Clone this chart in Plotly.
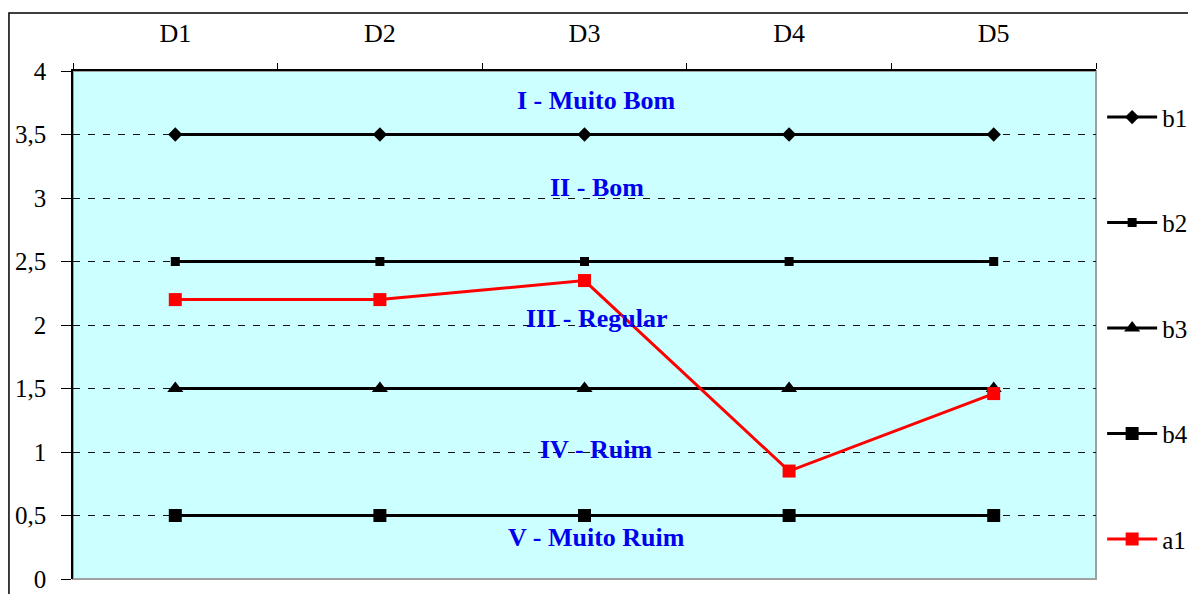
import plotly.graph_objects as go

categories = ["D1", "D2", "D3", "D4", "D5"]
b1 = [3.5, 3.5, 3.5, 3.5, 3.5]
b2 = [2.5, 2.5, 2.5, 2.5, 2.5]
b3 = [1.5, 1.5, 1.5, 1.5, 1.5]
b4 = [0.5, 0.5, 0.5, 0.5, 0.5]
a1 = [2.2, 2.2, 2.35, 0.85, 1.46]
zone_labels = ["I - Muito Bom", "II - Bom", "III - Regular", "IV - Ruim", "V - Muito Ruim"]
zone_label_y = [3.77, 3.08, 2.055, 1.016, 0.33]
ytick_vals = [0, 0.5, 1, 1.5, 2, 2.5, 3, 3.5, 4]

xi = list(range(len(categories)))
FONT = "Liberation Serif"

series = [
    ("b1", b1, "black", 3, "diamond", 11),
    ("b2", b2, "black", 3, "square", 9),
    ("b3", b3, "black", 3, "triangle-up", 14),
    ("b4", b4, "black", 3, "square", 13),
    ("a1", a1, "#FF0000", 3, "square", 13),
]

fig = go.Figure()
for name, vals, color, lw, sym, ms in series:
    fig.add_trace(go.Scatter(
        x=xi, y=vals, name=name, mode="lines+markers",
        line=dict(color=color, width=lw),
        marker=dict(symbol=sym, size=ms, color=color, line=dict(width=0)),
        legendgroup=name,
    ))

for txt, yv in zip(zone_labels, zone_label_y):
    fig.add_annotation(x=2.06, y=yv, xref="x", yref="y", text="<b>" + txt + "</b>",
                       showarrow=False, font=dict(family=FONT, size=26, color="#0000EE"))

# outer chart border
fig.add_shape(type="rect", xref="paper", yref="paper", x0=-0.0626, x1=1.0958, y0=-0.05, y1=1.114,
              line=dict(color="black", width=1.5), fillcolor="rgba(0,0,0,0)", layer="below")
# plot area light gray border
fig.add_shape(type="rect", xref="paper", yref="paper", x0=0, x1=1, y0=0, y1=1,
              line=dict(color="#A0A0A0", width=2), fillcolor="rgba(0,0,0,0)", layer="below")

fig.update_layout(
    width=1188, height=586,
    margin=dict(l=65, r=100, t=63, b=15, autoexpand=False),
    paper_bgcolor="white", plot_bgcolor="#CCFFFF",
    separators=",.",
    font=dict(family=FONT, size=25, color="black"),
    showlegend=True,
    legend=dict(x=1.006, xanchor="left", y=0.954, yanchor="top", tracegroupgap=70,
                font=dict(family=FONT, size=25, color="black"),
                bgcolor="rgba(0,0,0,0)", itemwidth=50),
    xaxis=dict(side="top", range=[-0.5, 4.5], tickvals=xi, ticktext=categories,
               ticks="", showgrid=False, zeroline=False, automargin=False,
               showline=True, linecolor="black", linewidth=1.5,
               minor=dict(tick0=0.5, dtick=1, ticks="outside", ticklen=6, tickcolor="black", showgrid=False),
               tickfont=dict(family=FONT, size=26), ticklabelstandoff=17),
    yaxis=dict(range=[0, 4], tickvals=ytick_vals, ticks="outside", ticklen=10, tickcolor="black",
               showline=True, linecolor="black", linewidth=1.5, automargin=False,
               showgrid=True, gridcolor="#111111", griddash="7px,8px", gridwidth=1,
               zeroline=False, tickfont=dict(family=FONT, size=25), ticklabelstandoff=10),
)

fig.write_html("out.html")
